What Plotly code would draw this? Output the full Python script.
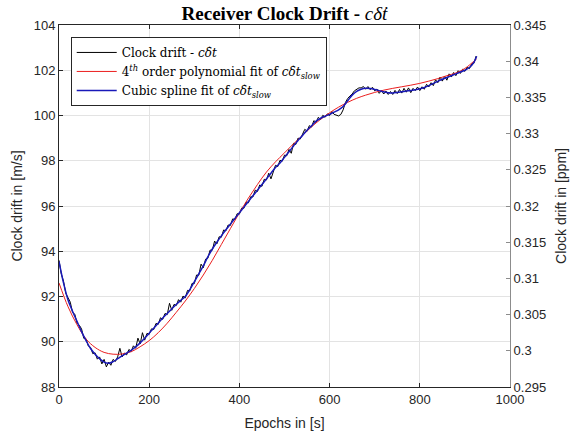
import plotly.graph_objects as go

# ---------------- data ----------------
black_epochs = list(range(0, 930, 5))
black_drift = [
    93.6, 93.0, 92.68, 92.14, 91.95, 91.75, 91.3, 91.22, 90.82, 90.73,
    90.57, 90.15, 90.13, 89.81, 89.75, 89.47, 89.51, 89.23, 89.33, 89.02,
    89.22, 88.89, 89.1, 88.96, 89.22, 89.13, 89.33, 89.71, 89.33, 89.5,
    89.42, 89.66, 89.57, 89.82, 89.71, 90.16, 89.9, 90.4, 90.07, 90.37,
    90.33, 90.57, 90.54, 90.81, 90.77, 91.06, 90.99, 91.25, 91.2, 91.7,
    91.39, 91.65, 91.6, 91.86, 91.75, 92.02, 91.94, 92.27, 92.25, 92.58,
    92.57, 92.95, 92.94, 93.43, 93.27, 93.65, 93.69, 94.05, 94.05, 94.45,
    94.32, 94.64, 94.62, 94.94, 94.9, 95.16, 95.14, 95.43, 95.4, 95.66,
    95.64, 95.91, 95.9, 96.18, 96.14, 96.41, 96.4, 96.7, 96.64, 96.93,
    96.87, 97.18, 97.15, 97.45, 97.2, 97.5, 97.8, 97.74, 98.02, 97.98,
    98.25, 98.22, 98.5, 98.33, 98.77, 98.72, 99.0, 98.96, 99.2, 99.39,
    99.3, 99.55, 99.49, 99.77, 99.7, 99.92, 99.82, 100.01, 99.92, 100.07,
    100.0, 100.18, 100.05, 100.02, 99.98, 100.05, 100.25, 100.57, 100.75, 100.86,
    100.95, 101.09, 101.15, 101.22, 101.22, 101.28, 101.16, 101.28, 101.14, 101.25,
    101.09, 101.17, 100.98, 101.11, 100.95, 101.08, 100.93, 101.06, 100.93, 101.11,
    100.97, 101.15, 100.99, 101.2, 101.03, 101.22, 101.01, 101.2, 101.1, 101.26,
    101.1, 101.27, 101.16, 101.38, 101.26, 101.45, 101.32, 101.58, 101.45, 101.7,
    101.52, 101.74, 101.56, 101.84, 101.7, 101.9, 101.76, 101.98, 101.86, 102.04,
    101.95, 102.14, 102.07, 102.28, 102.31, 102.63,
]

poly_epochs = [0, 20, 40, 60, 80, 100, 120, 140, 160, 180, 200, 220, 240, 260,
               280, 300, 320, 340, 360, 380, 400, 420, 440, 460, 480, 500, 520,
               540, 560, 580, 600, 620, 640, 660, 680, 700, 720, 740, 760, 780,
               800, 820, 840, 860, 880, 900, 920, 926]
poly_drift = [92.6, 91.55, 90.75, 90.12, 89.75, 89.53, 89.45, 89.46, 89.56, 89.78,
              90.05, 90.4, 90.82, 91.3, 91.8, 92.35, 92.95, 93.6, 94.3, 95.0,
              95.7, 96.35, 96.95, 97.5, 97.95, 98.35, 98.75, 99.12, 99.5, 99.83,
              100.12, 100.37, 100.58, 100.76, 100.9, 101.02, 101.12, 101.2, 101.27, 101.34,
              101.42, 101.52, 101.63, 101.76, 101.88, 102.08, 102.4, 102.5]

spline_epochs = list(range(0, 930, 10))[:93] + [926]
spline_drift = [93.55, 92.6, 91.85, 91.35, 90.9, 90.45, 90.05, 89.7, 89.45, 89.25,
                89.1, 89.05, 89.12, 89.25, 89.38, 89.5, 89.62, 89.77, 89.95, 90.15,
                90.38, 90.6, 90.82, 91.05, 91.25, 91.45, 91.65, 91.83, 92.0, 92.3,
                92.65, 93.0, 93.35, 93.75, 94.1, 94.4, 94.68, 94.95, 95.2, 95.45,
                95.7, 95.95, 96.2, 96.45, 96.7, 96.95, 97.2, 97.45, 97.7, 97.9,
                98.15, 98.4, 98.65, 98.9, 99.12, 99.35, 99.55, 99.75, 99.88, 99.97,
                100.05, 100.15, 100.25, 100.4, 100.65, 100.9, 101.07, 101.16, 101.2, 101.19,
                101.15, 101.1, 101.05, 101.01, 101.0, 101.02, 101.05, 101.08, 101.11, 101.14,
                101.18, 101.24, 101.32, 101.42, 101.51, 101.6, 101.68, 101.76, 101.84, 101.92,
                102.0, 102.12, 102.35, 102.62]

x_ticks = [0, 200, 400, 600, 800, 1000]
y_left_ticks = [88, 90, 92, 94, 96, 98, 100, 102, 104]
y_right_ticks = [0.295, 0.3, 0.305, 0.31, 0.315, 0.32, 0.325, 0.33, 0.335, 0.34, 0.345]
y_right_labels = ["0.295", "0.3", "0.305", "0.31", "0.315", "0.32", "0.325", "0.33", "0.335", "0.34", "0.345"]

# ---------------- figure ----------------
W, H = 573, 438
L, R, T, B = 59, 63, 25, 51
SANS = "Liberation Sans, Arial, sans-serif"
SERIF = "DejaVu Serif, Liberation Serif, serif"
TXT = "#262626"

fig = go.Figure()
fig.add_trace(go.Scatter(x=black_epochs, y=black_drift, mode="lines",
                         line=dict(color="black", width=1),
                         name="Clock drift - <i>cδ̇t</i>"))
fig.add_trace(go.Scatter(x=poly_epochs, y=poly_drift, mode="lines",
                         line=dict(color="rgb(235,30,30)", width=1, shape="spline"),
                         name="4<sup><i>th</i></sup> order polynomial fit of <i>cδ̇t<sub>slow</sub></i>"))
fig.add_trace(go.Scatter(x=spline_epochs, y=spline_drift, mode="lines",
                         line=dict(color="rgb(25,25,185)", width=1.5, shape="spline"),
                         name="Cubic spline fit of <i>cδ̇t<sub>slow</sub></i>"))
fig.add_trace(go.Scatter(x=[None], y=[None], yaxis="y2", mode="lines",
                         showlegend=False, hoverinfo="skip"))

fig.update_layout(
    width=W, height=H,
    margin=dict(l=L, r=R, t=T, b=B, autoexpand=False),
    paper_bgcolor="white", plot_bgcolor="white",
    font=dict(family=SANS, size=13, color=TXT),
    title=dict(text="<b>Receiver Clock Drift - </b><i>cδ̇t</i>",
               font=dict(family="Liberation Serif, serif", size=19, color="black"),
               x=0.5, xref="paper", xanchor="center",
               y=1 - 13 / H, yref="container", yanchor="middle", automargin=False),
    showlegend=True,
    legend=dict(x=0.026, y=0.967, xanchor="left", yanchor="top",
                bgcolor="white", bordercolor="#262626", borderwidth=1,
                font=dict(family=SERIF, size=12, color="black"),
                itemwidth=40, tracegroupgap=0),
    xaxis=dict(range=[0, 1000], tickvals=x_ticks, ticks="inside", ticklen=4,
               tickcolor=TXT, showline=True, linecolor=TXT, linewidth=1,
               mirror="ticks", showgrid=True, gridcolor="#e3e3e3", gridwidth=1,
               zeroline=False, automargin=False,
               title=dict(text="Epochs in [s]", font=dict(size=14), standoff=12),
               tickfont=dict(size=13)),
    yaxis=dict(range=[88, 104], tickvals=y_left_ticks, ticks="inside", ticklen=4,
               tickcolor=TXT, showline=True, linecolor=TXT, linewidth=1,
               showgrid=True, gridcolor="#e3e3e3", gridwidth=1, zeroline=False,
               automargin=False,
               title=dict(text="Clock drift in [m/s]", font=dict(size=14), standoff=7),
               tickfont=dict(size=13)),
    yaxis2=dict(range=[0.295, 0.345], tickvals=y_right_ticks, ticktext=y_right_labels,
                overlaying="y", side="right", ticks="inside", ticklen=4,
                tickcolor="#8c8c8c", showline=True, linecolor="#8c8c8c", linewidth=1,
                showgrid=False, zeroline=False, automargin=False,
                title=dict(text="Clock drift in [ppm]", font=dict(size=14), standoff=11),
                tickfont=dict(size=13)),
)

fig.write_html("out.html", config={"displayModeBar": False},
               post_script="document.body.style.margin='0';document.body.style.overflow='hidden';")
